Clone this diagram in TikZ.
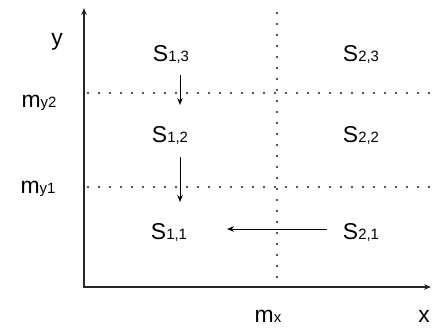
\documentclass[tikz,border=0pt]{standalone}
\usepackage{fontspec}
\setmainfont{Liberation Sans}
\usetikzlibrary{arrows.meta}
\newcommand{\idx}[2]{#1{\fontsize{15}{15}\selectfont #2}}
\begin{document}
\begin{tikzpicture}[x=1bp, y=1bp,
			>={Stealth[length=7bp,width=5.5bp]}, line width=1bp,
			asse/.style={<->, line width=1.2bp, line join=miter, black!85},
			griglia/.style={line width=2.2bp, line cap=round, dash pattern=on 0bp off 11bp, black!90},
			passo/.style={->, line width=1bp, black},
			etich/.style={font=\fontsize{23}{23}\selectfont, inner sep=0pt, anchor=base}]
			
			\useasboundingbox (0,0) rectangle (434,328);
			
			\def\xM{277}   %% soglia m_x
			\def\yA{141}   %% soglia m_y1
			\def\yB{235}   %% soglia m_y2
			
			%% --- assi ---
			\coordinate (Ytop) at (84,320);
			\coordinate (Xend) at (431,41);
			\draw[asse] (Ytop) |- (Xend);
			
			%% --- soglie punteggiate ---
			\draw[griglia] (\xM,315) -- (\xM,41);
			\draw[griglia] (88,\yB) -- (430,\yB);
			\draw[griglia] (88,\yA) -- (430,\yA);
			
			%% --- etichette degli assi ---
			\node[etich] (ly)  at (57,283) {y};
			\node[etich] (my2) at (39,221) {\idx{m}{y2}};
			\node[etich] (my1) at (38,135) {\idx{m}{y1}};
			\node[etich] (mx)  at (268,6)  {\idx{m}{x}};
			\node[etich] (lx)  at (424,6)  {x};
			
			%% --- stati ---
			\node[etich] (s13) at (171,267) {\idx{S}{1,3}};
			\node[etich] (s12) at (170,186) {\idx{S}{1,2}};
			\node[etich] (s11) at (169,89)  {\idx{S}{1,1}};
			\node[etich] (s23) at (361,267) {\idx{S}{2,3}};
			\node[etich] (s22) at (361,186) {\idx{S}{2,2}};
			\node[etich] (s21) at (361,89)  {\idx{S}{2,1}};
			
			%% --- passaggi tra stati ---
			\coordinate (a1) at (180,253);
			\coordinate (b1) at (180,223);
			\coordinate (a2) at (180,171);
			\coordinate (b2) at (180,126);
			\coordinate (a3) at (327,99);
			\coordinate (b3) at (227,99);
			\draw[passo] (a1) -- (b1);
			\draw[passo] (a2) -- (b2);
			\draw[passo] (a3) -- (b3);
			
		\end{tikzpicture}
\end{document}
